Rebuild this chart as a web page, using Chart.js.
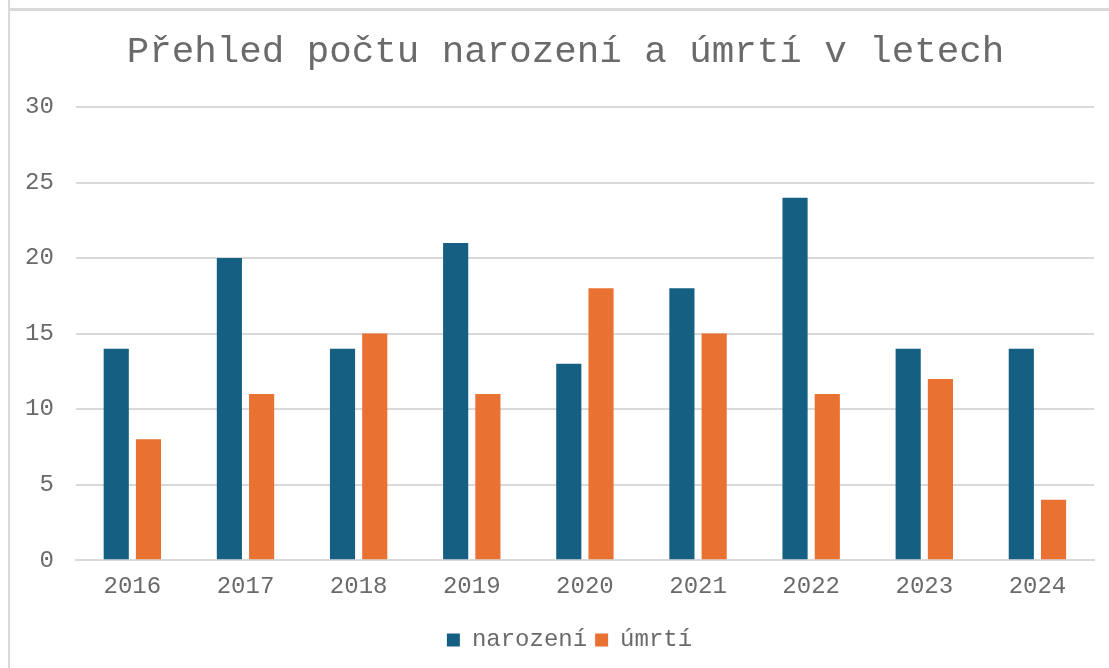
<!DOCTYPE html>
<html>
<head>
<meta charset="utf-8">
<script src="https://cdn.jsdelivr.net/npm/chart.js@4"></script>
<style>
  html, body { margin: 0; padding: 0; background: #fff; }
  #wrap { position: relative; width: 1109px; height: 668px; }
</style>
</head>
<body>
<div id="wrap"><canvas id="chart"></canvas></div>
<script>
// data
const years = ['2016', '2017', '2018', '2019', '2020', '2021', '2022', '2023', '2024'];
const births = [14, 20, 14, 21, 13, 18, 24, 14, 14];
const deaths = [8, 11, 15, 11, 18, 15, 11, 12, 4];
const yTicks = [0, 5, 10, 15, 20, 25, 30];

const FONT = "'Liberation Mono', 'Courier New', monospace";
const TEXT = '#6a6a6a';
const GRID = '#d9d9d9';

// white background + the cut-off frame on top / left
const framePlugin = {
  id: 'frame',
  beforeDraw(chart) {
    const ctx = chart.ctx;
    ctx.save();
    ctx.fillStyle = '#fff';
    ctx.fillRect(0, 0, chart.width, chart.height);
    ctx.fillStyle = GRID;
    ctx.fillRect(8, 0, 2, chart.height);
    ctx.fillRect(8, 8, chart.width - 8, 3);
    ctx.restore();
  },
};

// title and legend sit a bit right of centre in the original
const nudgePlugin = {
  id: 'nudge',
  afterLayout(chart) {
    if (chart.titleBlock) { chart.titleBlock.left += 17; chart.titleBlock.right += 17; }
    if (chart.legend) { chart.legend.left += 21; chart.legend.right += 21; }
  },
};

const ctx = document.getElementById('chart').getContext('2d');
new Chart(ctx, {
  type: 'bar',
  data: {
    labels: years,
    datasets: [
      { label: 'narození', data: births, backgroundColor: '#156082', categoryPercentage: 0.57, barPercentage: 0.78 },
      { label: 'úmrtí', data: deaths, backgroundColor: '#E97132', categoryPercentage: 0.57, barPercentage: 0.78 },
    ],
  },
  options: {
    responsive: true,
    maintainAspectRatio: false,
    animation: false,
    layout: { padding: { left: 3, right: 15, top: 20, bottom: 6 } },
    plugins: {
      title: {
        display: true,
        text: 'Přehled počtu narození a úmrtí v letech',
        color: TEXT,
        font: { family: FONT, size: 37.5, weight: 'normal' },
        padding: { top: 10, bottom: 32 },
      },
      legend: {
        position: 'bottom',
        labels: {
          color: TEXT,
          font: { family: FONT, size: 24 },
          boxWidth: 13,
          boxHeight: 13,
          padding: 8,
        },
      },
      tooltip: { enabled: false },
    },
    scales: {
      x: {
        grid: { display: false, drawTicks: false },
        border: { color: GRID, width: 2 },
        ticks: { color: TEXT, font: { family: FONT, size: 24 }, padding: 12 },
        afterFit: axis => { axis.height += 7; },
      },
      y: {
        min: 0,
        max: 30,
        afterBuildTicks: axis => { axis.ticks = yTicks.map(v => ({ value: v })); },
        grid: { color: GRID, lineWidth: 2, drawTicks: false },
        border: { display: false },
        ticks: { color: TEXT, font: { family: FONT, size: 24 }, padding: 22 },
      },
    },
  },
  plugins: [framePlugin, nudgePlugin],
});
</script>
</body>
</html>
